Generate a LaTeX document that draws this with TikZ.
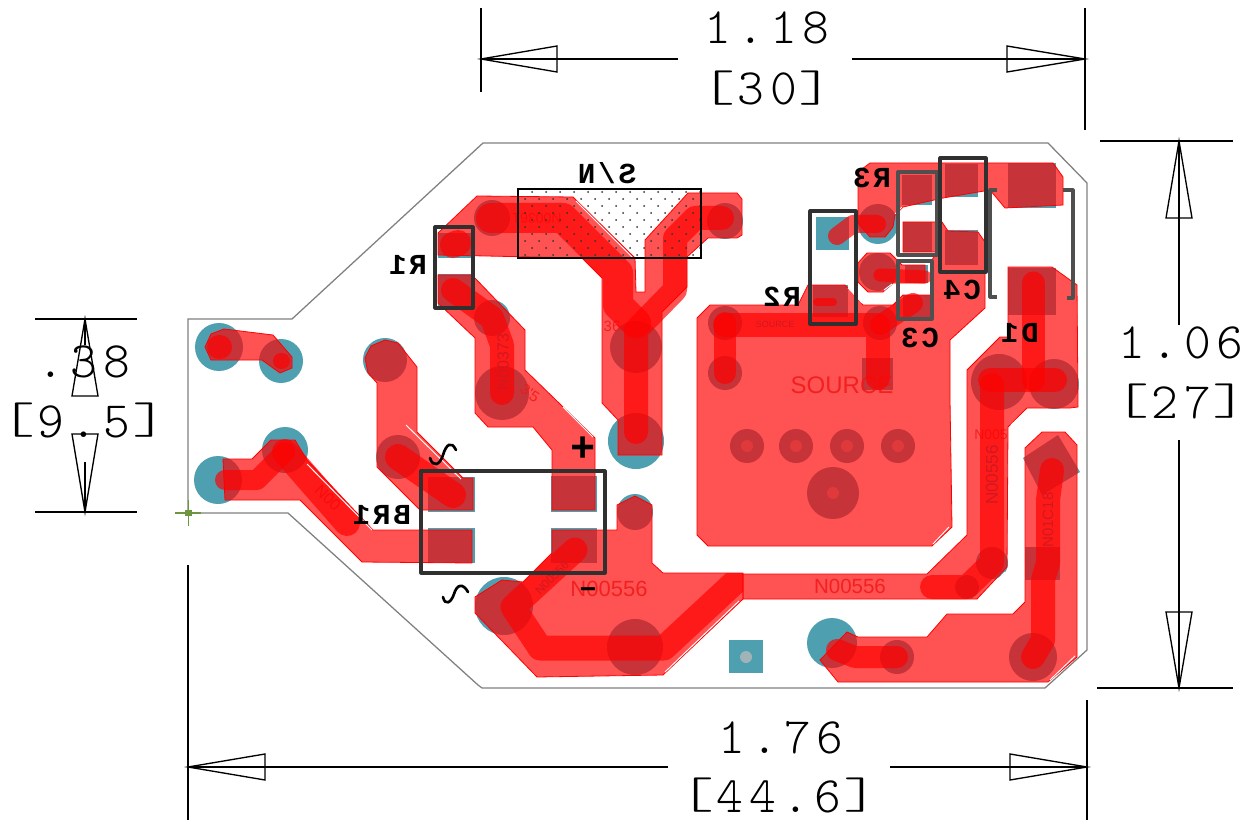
\documentclass[tikz,border=0pt]{standalone}
\usepackage{fontspec}
\setmainfont{Liberation Sans}
\newfontfamily\dimf[LetterSpace=12]{Latin Modern Mono Light}
\newfontfamily\silkf[LetterSpace=10]{Liberation Mono}
\newfontfamily\redf{Liberation Sans}
\definecolor{padteal}{HTML}{4E9FB0}
\definecolor{holegray}{HTML}{A0B4B8}
\definecolor{boardgray}{HTML}{808080}
\definecolor{netred}{HTML}{F01818}
\definecolor{netdark}{HTML}{D01820}
\definecolor{origingreen}{HTML}{6E9640}
\definecolor{silkdark}{HTML}{303030}
\newcommand{\pxs}[2]{\fontsize{\fpeval{#1*0.75}}{\fpeval{#1*0.9}}#2\selectfont}
\newcommand{\lbk}{\raisebox{2.7pt}{\scalebox{1.35}[.86]{[}}\kern1.5pt}
\newcommand{\rbk}{\kern1.5pt\raisebox{2.7pt}{\scalebox{1.35}[.86]{]}}}
\tikzset{
  pourshape/.style={fill=red,fill opacity=.68,draw=red,draw opacity=1,line width=.6pt,line join=miter},
  trace/.style={draw=red,draw opacity=.68,line width=#1*0.75pt,line cap=round,line join=round},
  silkbox/.style={draw=silkdark,line width=2.4pt,line join=round},
  silkgray/.style={draw=silkdark!85,line width=2.4pt,line join=round},
  dimline/.style={draw=black,line width=1.1pt},
  dimhead/.style={draw=black,line width=1pt,line join=miter},
  dimtext/.style={inner sep=0pt,anchor=base,font=\pxs{51}{\dimf}},
  silktext/.style={inner sep=0pt,font=\pxs{29}{\silkf\bfseries}},
  nettext/.style={inner sep=0pt,text=netred,text opacity=.85},
  nettop/.style={inner sep=0pt,text=netdark},
  whitecut/.style={draw=white,line width=.7pt}
}
\newcommand{\tc}[3]{\fill[padteal] (#1,#2) circle[radius=#3];}
\newcommand{\tr}[4]{\fill[padteal] (#1,#2) rectangle (#3,#4);}
\newcommand{\via}[3]{\fill[padteal] (#1,#2) circle[radius=#3];\fill[holegray] (#1,#2) circle[radius=6];}
\begin{document}
\begin{tikzpicture}[x=.75pt,y=-.75pt]
\useasboundingbox (0,0) rectangle (1257,820);
\fill[white] (0,0) rectangle (1257,820);
% ---- copper / pad layer
\tc{219}{347}{24}\tc{281}{361}{22}\tc{385}{360}{22}\tc{398}{457}{22}
\tc{285}{450}{23}\tc{218}{480}{24}\tc{504}{606}{29}
\tc{492}{218}{18}\tc{492}{318}{18}\tc{502}{393}{27}\tc{636}{347}{26}\tc{636}{441}{28}
\tc{725}{221}{18}\tc{635}{512}{18}\tc{635}{647}{28}
\tc{725}{323}{17}\tc{725}{373}{17}\tc{880}{323}{17}
\via{747}{446}{17}\via{796}{446}{17}\via{847}{446}{17}\via{898}{446}{17}\via{833}{493}{26}
\tc{999}{382}{28}\tc{1054}{384}{25}\tc{992}{563}{16}\tc{967}{587}{12}
\tc{832}{643}{25}\tc{897}{657}{17}\tc{1033}{657}{24}
\tc{878}{224}{20}\tc{878}{272}{19}
\tr{438}{233}{473}{258}\tr{438}{274}{473}{306}
\tr{428}{477}{475}{512}\tr{428}{528}{475}{563}\tr{551}{476}{597}{512}\tr{551}{528}{597}{563}
\tr{816}{217}{849}{250}\tr{813}{285}{848}{317}
\tr{902}{175}{932}{205}\tr{903}{222}{932}{252}
\tr{905}{265}{928}{283}\tr{903}{295}{930}{317}
\tr{945}{164}{978}{197}\tr{945}{230}{978}{265}
\tr{1008}{163}{1056}{208}\tr{1008}{268}{1056}{315}
\tr{862}{358}{893}{390}\tr{1025}{547}{1060}{580}
\fill[padteal] (1023,458)--(1058,435)--(1080,472)--(1042,495)--cycle;
\tr{729}{640}{763}{673}\fill[holegray] (746,657) circle[radius=6];
% ---- board outline
\draw[boardgray,line width=.95pt,line join=miter] (188,319)--(292,319)--(483,143)--(1048,143)--(1087,183)--(1087,650)--(1045,688)--(482,688)--(478,685)--(288,513)--(188,513)--cycle;
% ---- pours
\path[pourshape] (438,233)--(477,196)--(573,197)--(635,258)--(636,292)--(645,292)--(645,240)--(688,193)--(737,193)--(742,199)--(742,235)--(737,238)--(708,238)--(687,257)--(687,287)--(662,312)--(662,455)--(618,455)--(618,420)--(602,403)--(602,278)--(582,258)--(438,255)--cycle;
\path[pourshape] (438,275)--(472,275)--(525,330)--(525,370)--(595,438)--(595,510)--(552,510)--(552,450)--(533,427)--(488,427)--(475,413)--(475,338)--(438,303)--cycle;
\path[pourshape] (365,358)--(371,346)--(385,340)--(398,343)--(417,367)--(417,432)--(463,478)--(473,478)--(473,510)--(420,510)--(377,467)--(377,383)--(368,373)--cycle;
\path[pourshape] (223,459)--(252,459)--(271,440)--(295,440)--(307,460)--(373,530)--(472,530)--(472,563)--(362,562)--(300,500)--(225,500)--cycle;
\path[pourshape] (205,347)--(211,334)--(224,329)--(273,335)--(292,357)--(292,368)--(280,373)--(262,360)--(224,360)--(211,360)--cycle;
\path[pourshape] (552,553)--(552,530)--(617,530)--(617,505)--(635,496)--(652,505)--(652,563)--(663,573)--(743,573)--(743,599)--(663,675)--(537,677)--(475,613)--(475,597)--(502,580)--(523,582)--cycle;
\path[pourshape] (743,574)--(927,574)--(967,535)--(967,370)--(1000,337)--(1008,337)--(1008,267)--(1052,267)--(1077,285)--(1078,407)--(1070,408)--(1027,408)--(1008,427)--(1007,567)--(977,599)--(743,599)--cycle;
\path[pourshape] (697,535)--(697,318)--(710,305)--(798,305)--(808,285)--(845,285)--(863,305)--(893,305)--(903,295)--(932,295)--(932,260)--(937,252)--(903,252)--(903,222)--(942,222)--(948,231)--(978,232)--(985,242)--(985,308)--(950,340)--(950,400)--(952,527)--(932,546)--(708,546)--cycle;
\path[pourshape] (870,163)--(1053,163)--(1063,177)--(1063,205)--(1005,208)--(990,190)--(943,198)--(903,207)--(895,215)--(893,227)--(885,237)--(870,237)--(858,223)--(858,172)--cycle;
\path[pourshape] (867,253)--(890,253)--(902,265)--(925,265)--(925,283)--(893,283)--(883,292)--(868,292)--(858,282)--(858,263)--cycle;
\path[pourshape] (1025,448)--(1042,432)--(1065,432)--(1077,445)--(1077,657)--(1048,682)--(838,682)--(820,660)--(847,632)--(858,637)--(927,637)--(947,614)--(1013,614)--(1025,602)--cycle;
% ---- net labels under traces
\node[nettext,font=\pxs{14}{\redf},rotate=180] (netA) at (537,218) {N00361};
\node[nettext,font=\pxs{15}{\redf},rotate=-35] (netC) at (530,393) {3'5};
\node[nettext,font=\pxs{15}{\redf}] (netD) at (612,326) {36};
\node[nettext,font=\pxs{22}{\redf}] (netE) at (609,589) {N00556};
\node[nettext,font=\pxs{20.5}{\redf}] (netF) at (850,586) {N00556};
\node[nettext,font=\pxs{24}{\redf}] (netG) at (842,385) {SOURCE};
\node[nettext,font=\pxs{14}{\redf}] (netI) at (991,435) {N005};
\node[nettext,font=\pxs{16}{\redf},rotate=-45] (netK) at (328,498) {N00};
% ---- traces
\draw[trace=24] (219,347)--(220,347);
\draw[trace=16] (281,361)--(282,361);
\draw[trace=30] (491,218)--(563,218)--(618,273)--(618,305)--(636,323);
\draw[trace=24] (722,218)--(695,218)--(675,238)--(675,290)--(636,330)--(636,432);
\draw[trace=26] (453,245)--(458,243);
\draw[trace=24] (453,290)--(492,318)--(502,345)--(502,393);
\draw[trace=26] (398,457)--(453,495);
\draw[trace=20] (225,480)--(257,480)--(285,452);
\draw[trace=26] (285,452)--(347,523);
\begin{scope}
\clip (552,553)--(552,530)--(617,530)--(617,505)--(635,496)--(652,505)--(652,563)--(663,573)--(743,573)--(743,599)--(663,675)--(537,677)--(475,613)--(475,597)--(502,580)--(523,582)--cycle;
\draw[trace=25] (575,550)--(513,607)--(540,648)--(664,648)--(735,582);
\end{scope}
\draw[trace=24] (932,587)--(967,587)--(992,563)--(992,385);
\draw[trace=24] (990,380)--(1055,380);
\draw[trace=23] (1033,283)--(1033,380);
\draw[trace=24] (1052,470)--(1048,500)--(1048,563)--(1043,580)--(1043,640)--(1033,657);
\draw[trace=22] (837,650)--(855,657)--(897,657);
\draw[trace=22] (725,323)--(725,373);
\draw[trace=24] (725,325)--(878,325)--(878,378);
\draw[trace=20] (913,303)--(880,325);
\draw[trace=18] (837,236)--(853,224)--(877,224);
\draw[trace=13] (880,275)--(925,277);
\draw[trace=8] (817,302)--(833,302);
% ---- net labels over traces
\node[nettop,font=\pxs{16}{\redf},rotate=90] (netB) at (503,362) {N00373};
\node[nettop,font=\pxs{9}{\redf}] (netH) at (775,324) {SOURCE};
\node[nettop,font=\pxs{12}{\redf},rotate=45] (netJ) at (552,578) {N00556};
\node[nettop,font=\pxs{17}{\redf},rotate=90] (netL) at (992,475) {N00556};
\node[nettop,font=\pxs{15}{\redf},rotate=90] (netM) at (1048,520) {N01C18};
% ---- white hairlines along the pour edges
\draw[whitecut] (576,201)--(633,258);
\draw[whitecut] (563,407)--(593,437);
\draw[whitecut] (406,425)--(461,479);
\draw[whitecut] (307,464)--(372,530);
\draw[whitecut] (1011,425)--(1027,410);
\draw[whitecut] (665,672)--(739,601);
\draw[whitecut] (933,544)--(949,527);
\draw[whitecut] (982,596)--(1005,572);
\draw[whitecut] (1050,680)--(1075,656);
\draw[whitecut] (862,303)--(848,288);
\draw[whitecut] (884,290)--(892,284);
\draw[whitecut] (895,214)--(902,207);
% ---- dotted S/N area
\foreach \k in {0,2,4,6,8}{\foreach \i in {0,...,12}{\fill[black!80] ({532+14*\i},{192+7*\k}) circle[radius=1];}}
\foreach \k in {1,3,5,7,9}{\foreach \i in {0,...,12}{\fill[black!80] ({525+14*\i},{192+7*\k}) circle[radius=1];}}
% ---- silkscreen
\draw[black,line width=1.1pt] (518,189) rectangle (701,258);
\draw[silkbox] (435,227) rectangle (473,308);
\draw[silkbox] (421,471) rectangle (605,573);
\draw[silkbox] (810,211) rectangle (856,324);
\draw[silkgray] (898,172) rectangle (937,255);
\draw[silkgray] (898,261) rectangle (932,319);
\draw[silkbox] (940,158) rectangle (986,272);
\draw[silkgray] (997,190)--(990,190)--(990,297)--(997,297);
\draw[silkgray] (1063,190)--(1073,190)--(1073,298)--(1067,298);
\node[silktext] (lblR1) at (408,265) {\reflectbox{R1}};
\node[silktext] (lblSN) at (607,173) {\reflectbox{S/N}};
\node[silktext] (lblBR1) at (382,515) {\reflectbox{BR1}};
\node[silktext] (lblR2) at (782,297) {\reflectbox{R2}};
\node[silktext] (lblR3) at (872,178) {\reflectbox{R3}};
\node[silktext] (lblC3) at (920,338) {\reflectbox{C3}};
\node[silktext] (lblC4) at (962,290) {\reflectbox{C4}};
\node[silktext] (lblD1) at (1020,333) {\reflectbox{D1}};
\node[inner sep=0pt,font=\pxs{42}{\silkf\bfseries}] (lblPlus) at (583,449) {+};
\node[inner sep=0pt,font=\pxs{28}{\silkf\bfseries}] (lblMinus) at (588,593) {−};
\draw[black,line width=2pt,line cap=round] (430,458) .. controls (433,468) and (440,465) .. (443,455) .. controls (446,445) and (451,440) .. (456,450);
\draw[black,line width=2pt,line cap=round] (443,597) .. controls (445,606) and (451,603) .. (454,594) .. controls (457,584) and (463,583) .. (468,592);
% ---- origin mark
\draw[origingreen,line width=.8pt] (175,513)--(201,513) (188.5,500)--(188.5,526);
\fill[origingreen] (185,510) rectangle (192,516);
% ---- dimensions: top
\draw[dimline] (481,8)--(481,92) (1085,8)--(1085,130);
\draw[dimline] (481,59)--(678,59) (852,59)--(1085,59);
\draw[dimhead] (481,59)--(557,46)--(557,72)--cycle;
\draw[dimhead] (1085,59)--(1007,46)--(1007,72)--cycle;
\node[dimtext] (dimA) at (767,44) {1.18};
\node[dimtext] (dimAm) at (767,105) {\lbk 30\rbk};
% right
\draw[dimline] (1100,141)--(1233,141) (1097,688)--(1233,688);
\draw[dimline] (1179,141)--(1179,325) (1179,440)--(1179,688);
\draw[dimhead] (1179,141)--(1166,218)--(1192,218)--cycle;
\draw[dimhead] (1179,688)--(1166,612)--(1192,612)--cycle;
\node[dimtext] (dimB) at (1181,358) {1.06};
\node[dimtext] (dimBm) at (1181,418) {\lbk 27\rbk};
% bottom
\draw[dimline] (188,565)--(188,820) (1087,700)--(1087,820);
\draw[dimline] (188,767)--(668,767) (890,767)--(1087,767);
\draw[dimhead] (188,767)--(265,754)--(265,780)--cycle;
\draw[dimhead] (1087,767)--(1010,754)--(1010,780)--cycle;
\node[dimtext] (dimC) at (781,753) {1.76};
\node[dimtext] (dimCm) at (779,812) {\lbk 44.6\rbk};
% left
\draw[dimline] (35,319)--(137,319) (35,512)--(137,512);
\draw[dimline] (85,319)--(85,345) (85,462)--(85,512);
\draw[dimhead] (85,319)--(72,396)--(98,396)--cycle;
\draw[dimhead] (85,512)--(72,434)--(98,434)--cycle;
\node[dimtext] (dimD) at (84,377) {.38};
\node[dimtext] (dimDm) at (84,437) {\lbk 9.5\rbk};
\end{tikzpicture}
\end{document}
